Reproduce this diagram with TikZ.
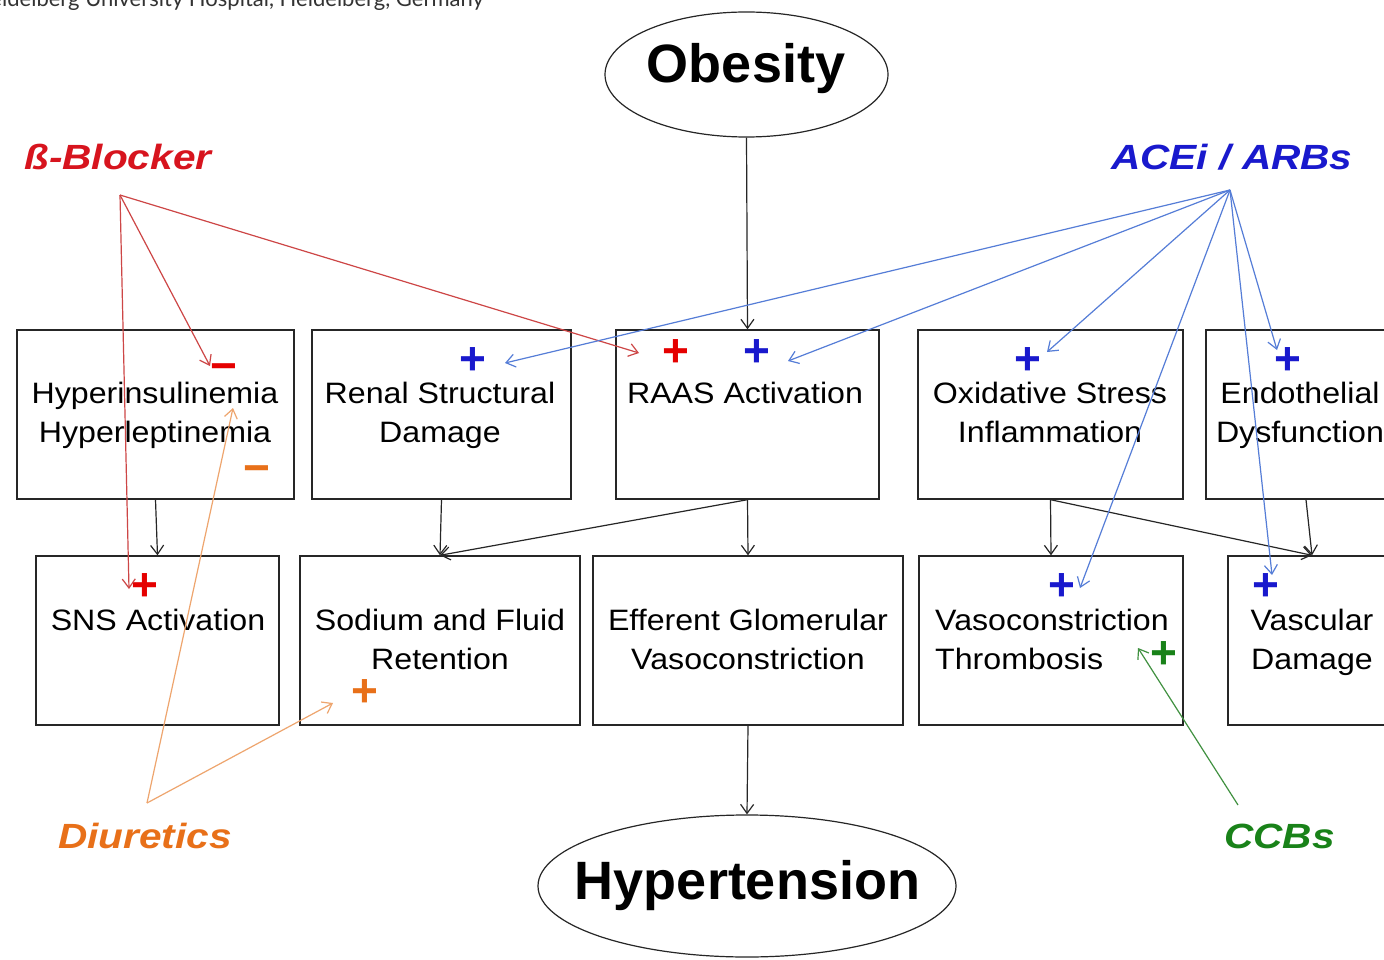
\documentclass[tikz,border=0pt]{standalone}
\usepackage{fontspec}
\setmainfont{Liberation Sans}
\newfontfamily\boxfont[FakeStretch=1.09]{Liberation Sans}
\newfontfamily\labfont[FakeStretch=1.16]{Liberation Sans}
\newfontfamily\capfont{Lato}
\usetikzlibrary{arrows.meta,shapes.geometric}
\definecolor{cred}{RGB}{215,20,30}
\definecolor{cblue}{RGB}{25,25,205}
\definecolor{corange}{RGB}{232,112,25}
\definecolor{cgreen}{RGB}{25,130,25}
\definecolor{lred}{RGB}{205,70,70}
\definecolor{lblue}{RGB}{85,125,215}
\definecolor{lorange}{RGB}{238,165,110}
\definecolor{lgreen}{RGB}{65,145,65}
\begin{document}
\begin{tikzpicture}[x=1pt,y=-1pt,
  box/.style={draw=black!85,line width=1.4pt,minimum height=169pt,inner sep=0pt},
  oval/.style={ellipse,draw=black!85,line width=1.2pt,inner sep=0pt},
  btext/.style={inner sep=0pt,font=\boxfont\fontsize{29.5}{39}\selectfont,align=center,anchor=north},
  ttext/.style={inner sep=0pt,font=\bfseries\fontsize{54}{60}\selectfont,anchor=base},
  lab/.style={inner sep=0pt,font=\labfont\bfseries\itshape\fontsize{35}{40}\selectfont,anchor=base west},
  sign/.style={inner sep=0pt,font=\bfseries\fontsize{46}{46}\selectfont},
  karr/.style={draw=black!85,line width=1.2pt,-{Straight Barb[length=9pt,width=13pt]}},
  carr/.style={line width=1.2pt,-{Straight Barb[length=9pt,width=13pt]}}
]
\useasboundingbox (0,0) rectangle (1384,960);
\clip (0,0) rectangle (1384,960);
\fill[white] (0,0) rectangle (1384,960);

% caption
\node[anchor=base east,inner sep=0pt,font=\capfont\fontsize{22}{26}\selectfont,text=black!80] (cap) at (484,7) {Heidelberg University Hospital, Heidelberg, Germany};

% ovals
\node[oval,minimum width=283pt,minimum height=125pt] (obe) at (746.5,74.5) {};
\node[ttext] (obet) at (746,83) {Obesity};
\node[oval,minimum width=418pt,minimum height=142pt] (hyt) at (747,886) {};
\node[ttext] (hytt) at (747.5,899) {Hypertension};

% row 1 boxes
\node[box,minimum width=277pt] (hyp) at (155.5,414.5) {};
\node[box,minimum width=259pt] (ren) at (441.5,414.5) {};
\node[box,minimum width=263pt] (raas) at (747.5,414.5) {};
\node[box,minimum width=265pt] (oxi) at (1050.5,414.5) {};
\node[box,minimum width=194pt] (endo) at (1303,414.5) {};
% row 2 boxes
\node[box,minimum width=243pt] (sns) at (157.5,640.5) {};
\node[box,minimum width=280pt] (sod) at (440,640.5) {};
\node[box,minimum width=310pt] (eff) at (748,640.5) {};
\node[box,minimum width=264pt] (vaso) at (1051,640.5) {};
\node[box,minimum width=168pt] (vasc) at (1312,640.5) {};

% box texts
\node[btext] (hypt) at (155,381.5) {Hyperinsulinemia\\Hyperleptinemia};
\node[btext] (rent) at (440,381.5) {Renal Structural\\Damage};
\node[btext] (raast) at (745,381.5) {RAAS Activation};
\node[btext] (oxit) at (1050,381.5) {Oxidative Stress\\Inflammation};
\node[btext] (endot) at (1300,381.5) {Endothelial\\Dysfunction};
\node[btext] (snst) at (158,608.5) {SNS Activation};
\node[btext] (sodt) at (440,608.5) {Sodium and Fluid\\Retention};
\node[btext] (efft) at (748,608.5) {Efferent Glomerular\\Vasoconstriction};
\node[btext,align=left,anchor=north west] (vasot) at (935,608.5) {Vasoconstriction\\Thrombosis};
\node[btext] (vasct) at (1312,608.5) {Vascular\\Damage};

% drug labels
\node[lab,text=cred] (bb) at (24,170) {ß-Blocker};
\node[lab,text=cblue] (ace) at (1111,170) {ACEi / ARBs};
\node[lab,text=corange] (diu) at (58,848) {Diuretics};
\node[lab,text=cgreen] (ccb) at (1224,848) {CCBs};

% signs
\node[sign,text=cblue] (p1) at (473,361) {+};
\node[sign,text=red!90!black] (p2) at (676,353) {+};
\node[sign,text=cblue] (p3) at (757,353) {+};
\node[sign,text=cblue] (p4) at (1028,361) {+};
\node[sign,text=cblue] (p5) at (1288,361) {+};
\node[sign,text=red!90!black] (p6) at (145,587) {+};
\node[sign,text=corange] (p7) at (365,693) {+};
\node[sign,text=cblue] (p8) at (1062,587) {+};
\node[sign,text=cgreen] (p9) at (1164,655) {+};
\node[sign,text=cblue] (p10) at (1266,587) {+};
\node[sign,text=red!90!black] (m1) at (224,373) {−};
\node[sign,text=corange] (m2) at (257,475) {−};

% black connectors
\draw[karr] (obe.south) -- (raas.north);
\draw[karr] (hyp.south) -- (sns.north);
\draw[karr] (ren.south) -- (sod.north);
\draw[karr] (raas.south) -- (sod.north);
\draw[karr] (raas.south) -- (eff.north);
\draw[karr] (oxi.south) -- (vaso.north);
\draw[karr] (oxi.south) -- (vasc.north);
\draw[karr] ([xshift=3pt]endo.south) -- (vasc.north);
\draw[karr] (eff.south) -- (hyt.north);

% drug connector origins and tips
\coordinate (bbo) at (120,195);
\coordinate (aceo) at (1230,190);
\coordinate (diuo) at (147,803);
\coordinate (ccbo) at (1238,805);
\coordinate (r1) at (210,366);
\coordinate (r2) at (639,353);
\coordinate (r3) at (129,589);
\coordinate (b1) at (505,363);
\coordinate (b2) at (788,361);
\coordinate (b3) at (1047,352);
\coordinate (b4) at (1277,350);
\coordinate (b5) at (1080,588);
\coordinate (b6) at (1272,575);
\coordinate (o1) at (233,408);
\coordinate (o2) at (333,703);
\coordinate (g1) at (1138,648);

\draw[carr,lred] (bbo) -- (r1);
\draw[carr,lred] (bbo) -- (r2);
\draw[carr,lred] (bbo) -- (r3);
\draw[carr,lblue] (aceo) -- (b1);
\draw[carr,lblue] (aceo) -- (b2);
\draw[carr,lblue] (aceo) -- (b3);
\draw[carr,lblue] (aceo) -- (b4);
\draw[carr,lblue] (aceo) -- (b5);
\draw[carr,lblue] (aceo) -- (b6);
\draw[carr,lorange] (diuo) -- (o1);
\draw[carr,lorange] (diuo) -- (o2);
\draw[carr,lgreen] (ccbo) -- (g1);
\end{tikzpicture}
\end{document}
